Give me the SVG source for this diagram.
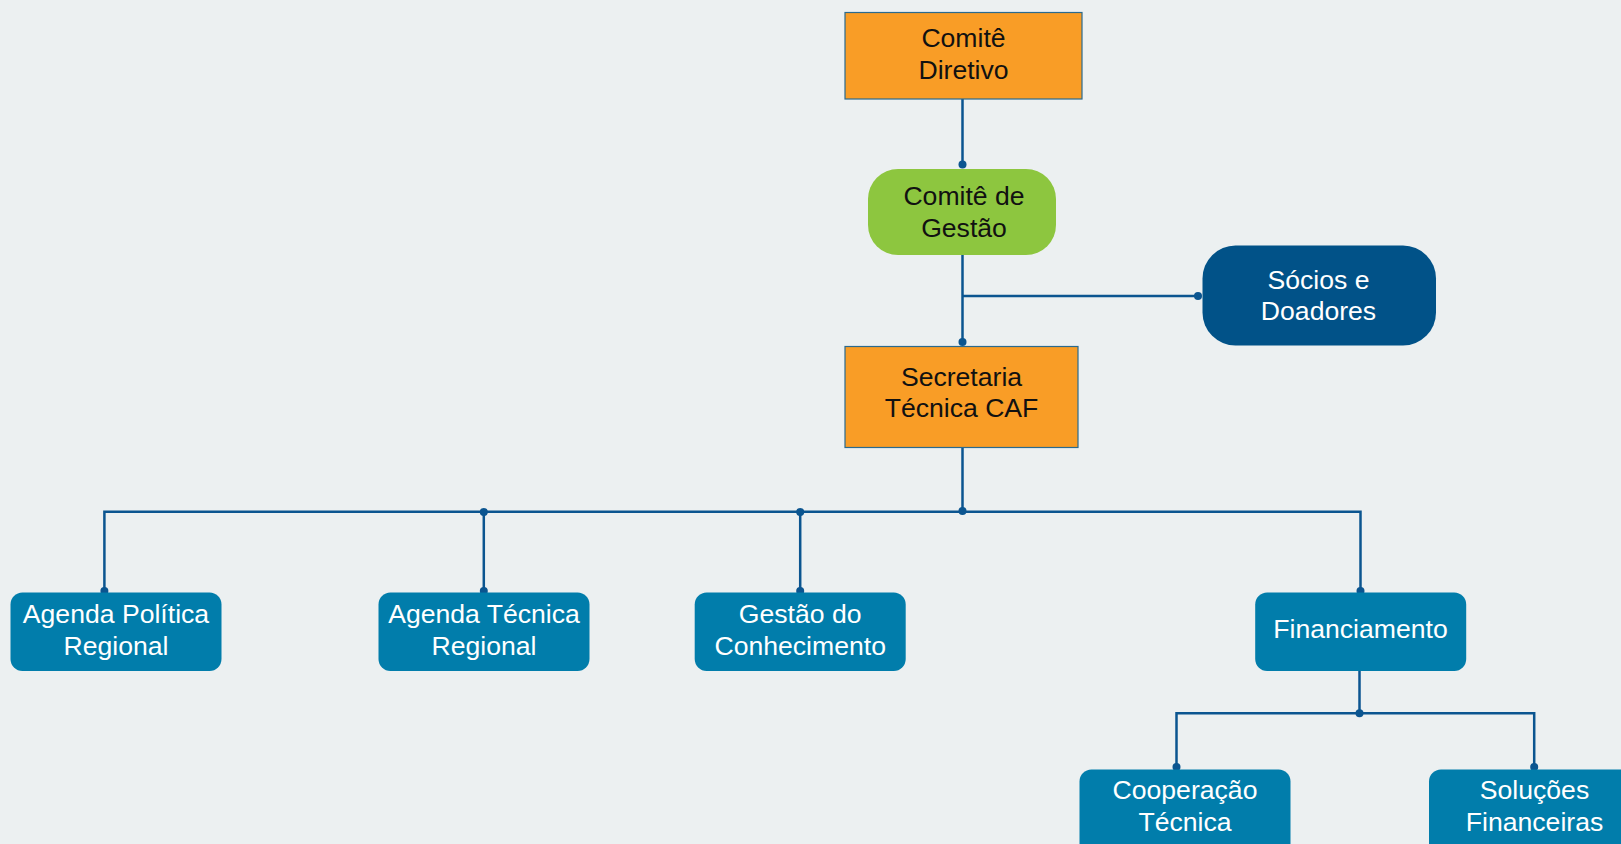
<svg xmlns="http://www.w3.org/2000/svg" width="1621" height="844" viewBox="0 0 1621 844">
<style>
.t{font-family:"Liberation Sans",Arial,sans-serif;font-size:26.6px;text-anchor:middle}
.dk{fill:#111}
.wh{fill:#fff}
.orange{fill:#F99D26;stroke:#2B6A8E;stroke-width:1.2}
.green{fill:#8DC63F}
.navy{fill:#015288}
.blue{fill:#017DAB}
.ln{fill:none;stroke:#0B5590;stroke-width:2.5}
.dot{fill:#0B5590}
</style>
<rect width="1621" height="844" fill="#ECF0F1"/>
<g id="connectors">
<path class="ln" d="M962.5 99 V164"/>
<path class="ln" d="M962.5 255 V342 M962.5 296 H1198"/>
<path class="ln" d="M962.5 448 V511.7"/>
<path class="ln" d="M104.4 591 V511.7 H1360.5 V591"/>
<path class="ln" d="M483.8 511.7 V591 M800.2 511.7 V591"/>
<path class="ln" d="M1359.5 671 V713.3"/>
<path class="ln" d="M1176.5 767 V713.3 H1534.2 V767"/>
<circle class="dot" cx="962.5" cy="164.5" r="4"/>
<circle class="dot" cx="962.5" cy="342" r="4"/>
<circle class="dot" cx="1198" cy="296" r="4"/>
<circle class="dot" cx="962.5" cy="511" r="4"/>
<circle class="dot" cx="483.8" cy="512" r="4"/>
<circle class="dot" cx="800.2" cy="512" r="4"/>
<circle class="dot" cx="104.4" cy="591" r="4"/>
<circle class="dot" cx="483.8" cy="591" r="4"/>
<circle class="dot" cx="800.2" cy="591" r="4"/>
<circle class="dot" cx="1360.5" cy="591" r="4"/>
<circle class="dot" cx="1359.5" cy="713.3" r="4"/>
<circle class="dot" cx="1176.5" cy="767" r="4"/>
<circle class="dot" cx="1534.2" cy="767" r="4"/>
</g>
<g id="comite-diretivo">
<rect class="orange" x="845" y="12.5" width="237" height="86.5"/>
<text class="t dk" x="963.5" y="47">Comitê</text>
<text class="t dk" x="963.5" y="78.5">Diretivo</text>
</g>
<g id="comite-gestao">
<rect class="green" x="868" y="169" width="188" height="86" rx="30"/>
<text class="t dk" x="964" y="205">Comitê de</text>
<text class="t dk" x="964" y="237">Gestão</text>
</g>
<g id="socios">
<rect class="navy" x="1202.5" y="245.5" width="233.5" height="100" rx="33"/>
<text class="t wh" x="1318.5" y="288.5">Sócios e</text>
<text class="t wh" x="1318.5" y="320">Doadores</text>
</g>
<g id="secretaria">
<rect class="orange" x="845" y="346.5" width="233" height="101"/>
<text class="t dk" x="961.5" y="385.5">Secretaria</text>
<text class="t dk" x="961.5" y="417">Técnica CAF</text>
</g>
<g id="agenda-politica">
<rect class="blue" x="10.5" y="592.5" width="211" height="78.5" rx="12"/>
<text class="t wh" x="116" y="623">Agenda Política</text>
<text class="t wh" x="116" y="655">Regional</text>
</g>
<g id="agenda-tecnica">
<rect class="blue" x="378.5" y="592.5" width="211" height="78.5" rx="12"/>
<text class="t wh" x="484" y="623">Agenda Técnica</text>
<text class="t wh" x="484" y="655">Regional</text>
</g>
<g id="gestao-conhecimento">
<rect class="blue" x="694.7" y="592.5" width="211" height="78.5" rx="12"/>
<text class="t wh" x="800.2" y="623">Gestão do</text>
<text class="t wh" x="800.2" y="655">Conhecimento</text>
</g>
<g id="financiamento">
<rect class="blue" x="1255.2" y="592.5" width="211" height="78.5" rx="12"/>
<text class="t wh" x="1360.5" y="638">Financiamento</text>
</g>
<g id="cooperacao">
<rect class="blue" x="1079.5" y="769.5" width="211" height="90" rx="12"/>
<text class="t wh" x="1185" y="799">Cooperação</text>
<text class="t wh" x="1185" y="831">Técnica</text>
</g>
<g id="solucoes">
<rect class="blue" x="1429" y="769.5" width="211" height="90" rx="12"/>
<text class="t wh" x="1534.5" y="799">Soluções</text>
<text class="t wh" x="1534.5" y="831">Financeiras</text>
</g>
</svg>
